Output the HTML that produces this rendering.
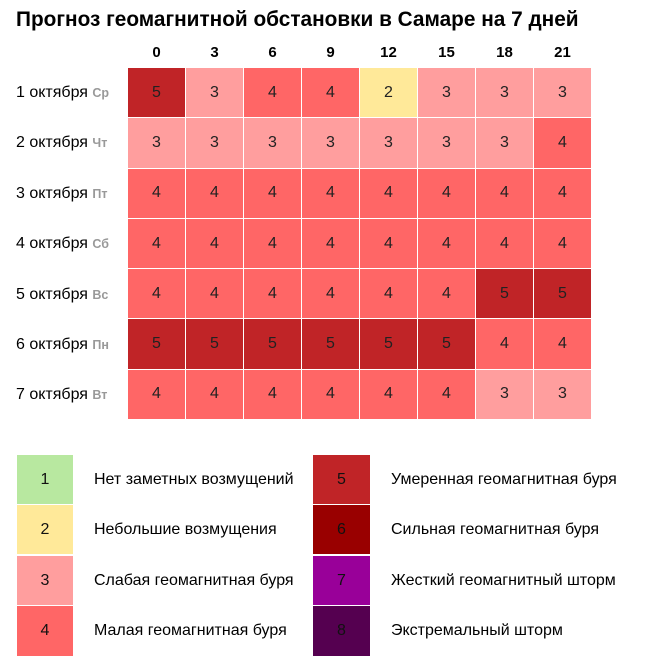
<!DOCTYPE html>
<html><head><meta charset="utf-8"><style>
body{margin:0;width:648px;height:670px;background:#fff;font-family:"Liberation Sans",sans-serif;position:relative;overflow:hidden}
.t{position:absolute;left:16px;top:8px;font-size:20.8px;font-weight:bold;color:#000}
.hd{position:absolute;top:44px;font-size:15px;font-weight:bold;width:57px;text-align:center}
.grid{position:absolute;left:128px;top:68px;display:grid;grid-template-columns:repeat(8,57px);grid-auto-rows:49.3px;gap:1px}
.grid div{display:flex;align-items:center;justify-content:center;font-size:16px;color:#222}
.c2{background:#ffe999}.c3{background:#ff9e9e}.c4{background:#ff6666}.c5{background:#c02427}
.lab{position:absolute;left:16px;font-size:16px;color:#000}
.lab b{color:#999;font-size:12.5px}
.lb{position:absolute;width:56px;height:49px;display:flex;align-items:center;justify-content:center;font-size:16px;color:#111}
.lt{position:absolute;font-size:16px;color:#000}
</style></head><body>
<div class="t">Прогноз геомагнитной обстановки в Самаре на 7 дней</div>
<div class="hd" style="left:128px">0</div><div class="hd" style="left:186px">3</div><div class="hd" style="left:244px">6</div><div class="hd" style="left:302px">9</div><div class="hd" style="left:360px">12</div><div class="hd" style="left:418px">15</div><div class="hd" style="left:476px">18</div><div class="hd" style="left:534px">21</div>
<div class="lab" style="top:84px">1 октября <b>Ср</b></div>
<div class="lab" style="top:134px">2 октября <b>Чт</b></div>
<div class="lab" style="top:185px">3 октября <b>Пт</b></div>
<div class="lab" style="top:235px">4 октября <b>Сб</b></div>
<div class="lab" style="top:286px">5 октября <b>Вс</b></div>
<div class="lab" style="top:336px">6 октября <b>Пн</b></div>
<div class="lab" style="top:386px">7 октября <b>Вт</b></div>
<div class="grid">
<div class="c5">5</div><div class="c3">3</div><div class="c4">4</div><div class="c4">4</div><div class="c2">2</div><div class="c3">3</div><div class="c3">3</div><div class="c3">3</div>
<div class="c3">3</div><div class="c3">3</div><div class="c3">3</div><div class="c3">3</div><div class="c3">3</div><div class="c3">3</div><div class="c3">3</div><div class="c4">4</div>
<div class="c4">4</div><div class="c4">4</div><div class="c4">4</div><div class="c4">4</div><div class="c4">4</div><div class="c4">4</div><div class="c4">4</div><div class="c4">4</div>
<div class="c4">4</div><div class="c4">4</div><div class="c4">4</div><div class="c4">4</div><div class="c4">4</div><div class="c4">4</div><div class="c4">4</div><div class="c4">4</div>
<div class="c4">4</div><div class="c4">4</div><div class="c4">4</div><div class="c4">4</div><div class="c4">4</div><div class="c4">4</div><div class="c5">5</div><div class="c5">5</div>
<div class="c5">5</div><div class="c5">5</div><div class="c5">5</div><div class="c5">5</div><div class="c5">5</div><div class="c5">5</div><div class="c4">4</div><div class="c4">4</div>
<div class="c4">4</div><div class="c4">4</div><div class="c4">4</div><div class="c4">4</div><div class="c4">4</div><div class="c4">4</div><div class="c3">3</div><div class="c3">3</div>
</div>
<div class="lb" style="left:17px;top:455px;background:#b8e8a0">1</div>
<div class="lb" style="left:17px;top:505px;background:#ffe999">2</div>
<div class="lb" style="left:17px;top:556px;background:#ff9e9e">3</div>
<div class="lb" style="left:17px;top:606px;background:#ff6666;height:50px">4</div>
<div class="lt" style="left:94px;top:471px">Нет заметных возмущений</div>
<div class="lt" style="left:94px;top:521px">Небольшие возмущения</div>
<div class="lt" style="left:94px;top:572px">Слабая геомагнитная буря</div>
<div class="lt" style="left:94px;top:622px">Малая геомагнитная буря</div>
<div class="lb" style="left:313px;top:455px;background:#c02427;width:57px">5</div>
<div class="lb" style="left:313px;top:505px;background:#990000;width:57px">6</div>
<div class="lb" style="left:313px;top:556px;background:#990099;width:57px">7</div>
<div class="lb" style="left:313px;top:606px;background:#550050;width:57px;height:50px">8</div>
<div class="lt" style="left:391px;top:471px">Умеренная геомагнитная буря</div>
<div class="lt" style="left:391px;top:521px">Сильная геомагнитная буря</div>
<div class="lt" style="left:391px;top:572px">Жесткий геомагнитный шторм</div>
<div class="lt" style="left:391px;top:622px">Экстремальный шторм</div>
</body></html>
